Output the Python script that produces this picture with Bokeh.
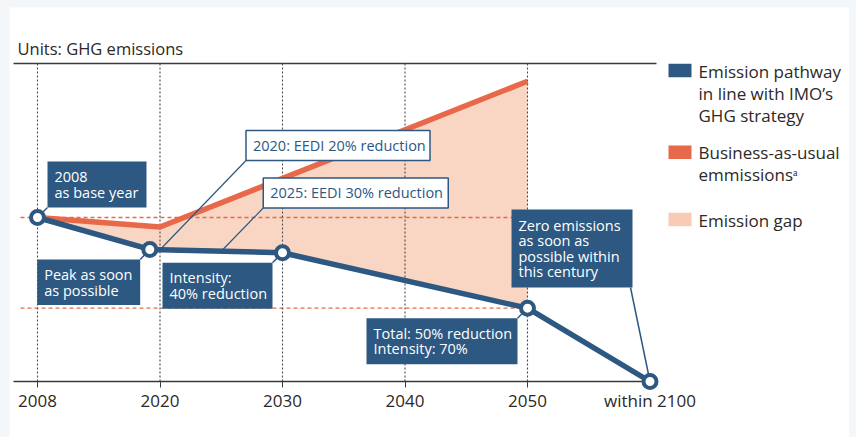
import numpy as np
from bokeh.plotting import figure
from bokeh.models import FixedTicker, Range1d
from bokeh.layouts import column
from bokeh.embed import file_html
from bokeh.resources import INLINE
from bokeh.core.properties import value

# ---------------- data ----------------
tick_years = [2008, 2020, 2030, 2040, 2050, 2100]
tick_labels = ["2008", "2020", "2030", "2040", "2050", "within 2100"]

imo_years = [2008, 2019, 2030, 2050, 2100]
imo_values = [100, 80.5, 78.5, 44.7, 0]

bau_years = [2008, 2020, 2050]
bau_values = [100, 94.2, 183.1]

title_text = "Units: GHG emissions"
legend_labels = ["Emission pathway\nin line with IMO\u2019s\nGHG strategy",
                 "Business-as-usual\nemmissions\u1d43",
                 "Emission gap"]

# callouts on the IMO pathway (year, text)
point_notes = [
    (2008, "2008\nas base year"),
    (2019, "Peak as soon\nas possible"),
    (2030, "Intensity:\n40% reduction"),
    (2050, "Total: 50% reduction\nIntensity: 70%"),
    (2100, "Zero emissions\nas soon as\npossible within\nthis century"),
]
eedi_notes = [
    (2020, "2020: EEDI 20% reduction"),
    (2025, "2025: EEDI 30% reduction"),
]

# ---------------- style ----------------
BLUE = "#2c5882"
ORANGE = "#e8694a"
GAP = "#f9d6c3"
GAP_SW = "#f7cbb4"
TEXT = "#2d2926"
RULE = "#3a3a3a"
GRIDC = "#4a4a4a"
PAGE_BG = "#f3f7fa"
FONT = "Open Sans"

FIG_W, FIG_H = 840, 430        # white panel, placed at (9, 7) on the page
OFF_X, OFF_Y = 9, 7
SX, SY = 122.5, 1.64           # px per axis unit
ORIGIN_X, ORIGIN_Y = 37, 381   # page px of (2008, 0)


def xpos(years):
    return np.interp(years, tick_years, np.arange(len(tick_years)))


def px_x(px):   # page pixel -> x axis unit (decorations only)
    return (px - ORIGIN_X) / SX


def px_y(py):   # page pixel -> y axis unit (decorations only)
    return (ORIGIN_Y - py) / SY


x_range = Range1d(px_x(OFF_X), px_x(OFF_X + FIG_W))
y_range = Range1d(px_y(OFF_Y + FIG_H), px_y(OFF_Y))

p = figure(width=FIG_W, height=FIG_H, x_range=x_range, y_range=y_range,
           output_backend="svg", toolbar_location=None,
           min_border=0, min_border_left=0, min_border_right=0,
           min_border_top=0, min_border_bottom=0,
           y_axis_location=None, background_fill_color="white",
           border_fill_color="white", outline_line_color=None,
           margin=(OFF_Y, 856 - OFF_X - FIG_W, 0, OFF_X))
p.xgrid.visible = False
p.ygrid.visible = False

TOP = px_y(63)
LEFT_EDGE, RIGHT_EDGE = px_x(13), px_x(655)

# bottom axis at value 0
ax = p.below[0]
ax.ticker = FixedTicker(ticks=list(range(len(tick_years))))
ax.major_label_overrides = {i: t for i, t in enumerate(tick_labels)}
ax.fixed_location = 0
ax.bounds = (LEFT_EDGE, RIGHT_EDGE)
ax.axis_line_color = RULE
ax.axis_line_width = 1.3
ax.major_tick_line_color = RULE
ax.major_tick_out = 6
ax.major_tick_in = 0
ax.minor_tick_line_color = None
ax.major_label_text_font = FONT
ax.major_label_text_font_size = "17px"
ax.major_label_text_color = TEXT
ax.major_label_standoff = 1

# title and top rule
p.text(x=[px_x(17)], y=[px_y(48)], text=[title_text], text_font=value(FONT),
       text_font_size="16.5px", text_color=TEXT, text_baseline="middle",
       text_align="left")
p.segment(x0=[LEFT_EDGE], y0=[TOP], x1=[px_x(656)], y1=[TOP],
          line_color=RULE, line_width=1.3)

imo_x = xpos(imo_years)
bau_x = xpos(bau_years)

# emission gap area (between BAU and IMO pathway up to 2050)
last = imo_years.index(bau_years[-1])
gap_x = list(bau_x) + list(imo_x[:last + 1][::-1])
gap_y = list(bau_values) + list(imo_values[:last + 1][::-1])
p.patch(gap_x, gap_y, fill_color=GAP, line_color=None)

# reference dashed levels (2008 base, 2050 level)
lv = [imo_values[0], imo_values[last]]
p.segment(x0=[px_x(20)] * 2, y0=lv, x1=[imo_x[last]] * 2, y1=lv,
          line_color=ORANGE, line_dash="4 3", line_width=1.3)

# vertical dotted grid lines
gx = list(range(len(tick_years) - 1))
p.segment(x0=gx, y0=[0] * len(gx), x1=gx, y1=[TOP] * len(gx),
          line_color=GRIDC, line_dash="2 2", line_width=1.1)

# BAU line and IMO line
p.line(bau_x, bau_values, line_color=ORANGE, line_width=5.5, line_join="round")
p.line(imo_x, imo_values, line_color=BLUE, line_width=5.5, line_join="round")

# --- callouts ---
# geometry in px relative to the anchor point: (left, right, top, bottom, corner_dx, corner_dy)
pt_geom = [
    (10, 109, -56, -10, 10, -10),
    (-112.6, -9.6, 10, 55.5, -9.6, 10),
    (-120, -10, 10, 56, -10, 10),
    (-161, -10, 10, 56, -10, 10),
    (-138.5, -17.5, -172, -94, -19.5, -94),
]
eedi_geom = [
    (86, 270, -119.3, -89.3, 86, -89.3),
    (42, 227, -73.3, -43.3, 42, -43.3),
]

PAD = 7


def boxes(anchors, geoms):
    L, R, T, B, cx0, cy0, cx1, cy1, tx, ty = ([] for _ in range(10))
    for (ax_, ay_), g in zip(anchors, geoms):
        l, r, t, b, cdx, cdy = g
        L.append(ax_ + l / SX); R.append(ax_ + r / SX)
        T.append(ay_ - t / SY); B.append(ay_ - b / SY)
        cx0.append(ax_); cy0.append(ay_)
        cx1.append(ax_ + cdx / SX); cy1.append(ay_ - cdy / SY)
        tx.append(ax_ + (l + PAD) / SX); ty.append(ay_ - (t + b) / 2 / SY)
    return L, R, T, B, cx0, cy0, cx1, cy1, tx, ty


pt_anchor = [(xpos(y), imo_values[imo_years.index(y)]) for y, _ in point_notes]
ee_anchor = [(xpos(y), float(np.interp(y, imo_years, imo_values))) for y, _ in eedi_notes]

L, R, T, B, cx0, cy0, cx1, cy1, tx, ty = boxes(ee_anchor, eedi_geom)
p.segment(x0=cx0, y0=cy0, x1=cx1, y1=cy1, line_color=BLUE, line_width=1.2)
p.quad(left=L, right=R, top=T, bottom=B, fill_color="white",
       line_color=BLUE, line_width=1.5)
p.text(x=tx, y=ty, text=[t for _, t in eedi_notes], text_font=value(FONT),
       text_font_size="14.5px", text_color=BLUE, text_baseline="middle",
       text_align="left")

L, R, T, B, cx0, cy0, cx1, cy1, tx, ty = boxes(pt_anchor, pt_geom)
p.segment(x0=cx0, y0=cy0, x1=cx1, y1=cy1, line_color=BLUE, line_width=1.5)
p.quad(left=L, right=R, top=T, bottom=B, fill_color=BLUE, line_color=None)
p.text(x=tx, y=ty, text=[t for _, t in point_notes], text_font=value(FONT),
       text_font_size="14.5px", text_color="white", text_baseline="middle",
       text_align="left", text_line_height=0.82)

# markers (drawn above the axis line)
mk = p.scatter(imo_x, imo_values, size=13, fill_color="white", line_color=BLUE,
               line_width=4)
mk.level = "overlay"

# legend: swatches and labels (page px positions)
sw_top = [63.3, 145.0, 212.3]
lab_mid = [92.8, 162.9, 220.0]
p.quad(left=[px_x(668)] * 3, right=[px_x(691)] * 3,
       top=[px_y(t) for t in sw_top], bottom=[px_y(t + 13.4) for t in sw_top],
       fill_color=[BLUE, ORANGE, GAP_SW], line_color=None)
p.text(x=[px_x(698)] * 3, y=[px_y(m) for m in lab_mid], text=legend_labels,
       text_font=value(FONT), text_font_size="17px", text_color=TEXT,
       text_baseline="middle", text_align="left", text_line_height=0.96)

layout = column(p, styles={"background-color": PAGE_BG})
open("out.html", "w").write(file_html(layout, INLINE))
